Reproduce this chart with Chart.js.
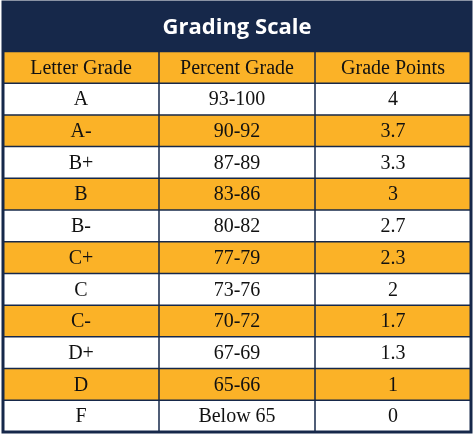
<!DOCTYPE html>
<html>
<head>
<meta charset="utf-8">
<script src="https://cdn.jsdelivr.net/npm/chart.js@4/dist/chart.umd.min.js"></script>
<style>
  html, body { margin: 0; padding: 0; background: #fff; }
  #wrap { width: 474px; height: 435px; }
</style>
</head>
<body>
<div id="wrap"><canvas id="table"></canvas></div>
<script>
const title = "Grading Scale";
const headers = ["Letter Grade", "Percent Grade", "Grade Points"];
const letters = ["A", "A-", "B+", "B", "B-", "C+", "C", "C-", "D+", "D", "F"];
const percents = ["93-100", "90-92", "87-89", "83-86", "80-82", "77-79", "73-76", "70-72", "67-69", "65-66", "Below 65"];
const points = ["4", "3.7", "3.3", "3", "2.7", "2.3", "2", "1.7", "1.3", "1", "0"];

const NAVY = "#16284a";
const ORANGE = "#fbb227";
const TITLE_ROWS = 1.56; // title band height in row units

const tablePlugin = {
  id: "tablePlugin",
  afterDraw(chart) {
    const ctx = chart.ctx;
    const x = chart.scales.x, y = chart.scales.y;
    const rows = [headers].concat(letters.map((l, i) => [l, percents[i], points[i]]));
    const left = x.getPixelForValue(0), right = x.getPixelForValue(3);
    const top = y.getPixelForValue(-TITLE_ROWS), tb = y.getPixelForValue(0);

    ctx.save();
    // title band
    ctx.fillStyle = NAVY;
    ctx.fillRect(left, top, right - left, tb - top);
    ctx.fillStyle = "#fff";
    ctx.font = "bold 22px 'Open Sans'";
    ctx.textAlign = "center";
    ctx.textBaseline = "middle";
    ctx.fillText(title, (left + right) / 2, (top + tb) / 2 + 1);

    // rows
    rows.forEach((row, r) => {
      const y0 = y.getPixelForValue(r), y1 = y.getPixelForValue(r + 1);
      ctx.fillStyle = r % 2 === 0 ? ORANGE : "#fff";
      ctx.fillRect(left, y0, right - left, y1 - y0);
      ctx.fillStyle = "#111";
      ctx.font = "20px 'Liberation Serif'";
      row.forEach((txt, c) => {
        const cx = (x.getPixelForValue(c) + x.getPixelForValue(c + 1)) / 2;
        ctx.fillText(txt, cx, (y0 + y1) / 2 + 1);
      });
    });

    // grid lines
    ctx.strokeStyle = NAVY;
    ctx.lineWidth = 1.5;
    for (let r = 0; r <= rows.length; r++) {
      const py = y.getPixelForValue(r);
      ctx.beginPath(); ctx.moveTo(left, py); ctx.lineTo(right, py); ctx.stroke();
    }
    for (let c = 0; c <= 3; c++) {
      const px = x.getPixelForValue(c);
      ctx.beginPath(); ctx.moveTo(px, tb); ctx.lineTo(px, y.getPixelForValue(rows.length)); ctx.stroke();
    }
    ctx.lineWidth = 3;
    ctx.strokeRect(left, top, right - left, y.getPixelForValue(rows.length) - top);
    ctx.restore();
  }
};

new Chart(document.getElementById("table"), {
  type: "scatter",
  data: { datasets: [{ data: [] }] },
  options: {
    responsive: true,
    maintainAspectRatio: false,
    animation: false,
    layout: { padding: { left: 3, right: 3, top: 2, bottom: 3 } },
    plugins: { legend: { display: false }, tooltip: { enabled: false } },
    scales: {
      x: { type: "linear", min: 0, max: 3, display: false },
      y: { type: "linear", min: -TITLE_ROWS, max: 12, reverse: true, display: false }
    }
  },
  plugins: [tablePlugin]
});
</script>
</body>
</html>
